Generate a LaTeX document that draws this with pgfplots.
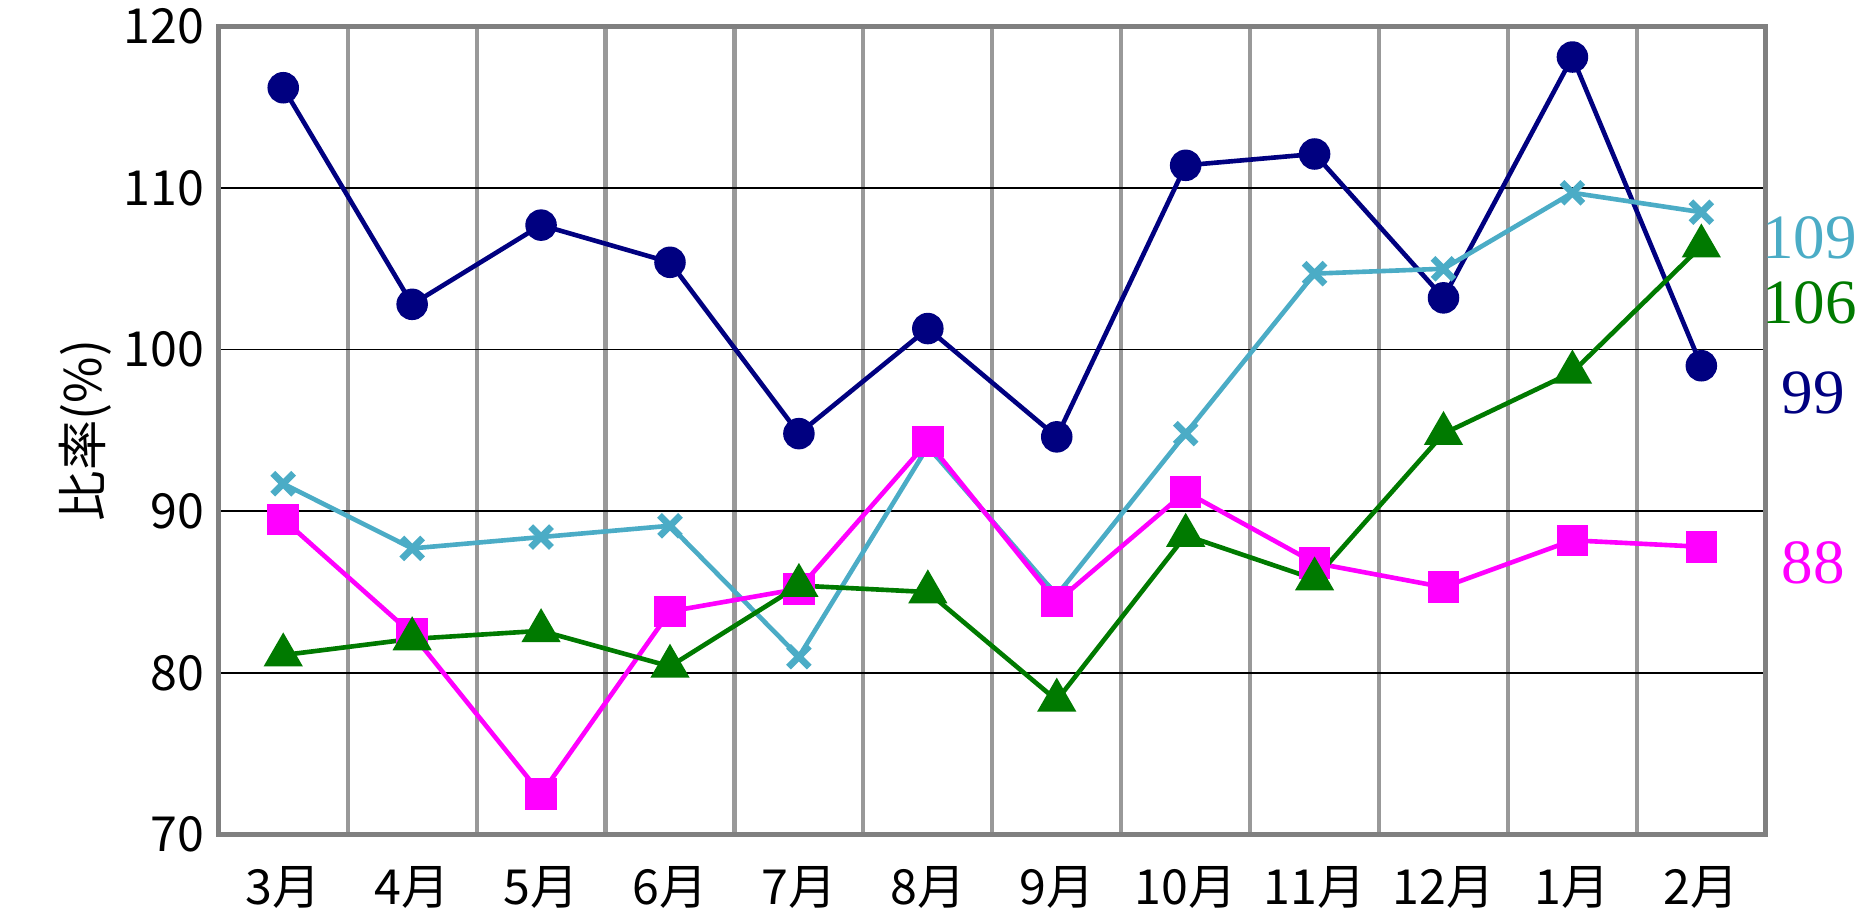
\documentclass[border=0pt]{standalone}
\usepackage{pgfplots}
\pgfplotsset{compat=1.18}
\usepackage{fontspec}
\setmainfont{Liberation Serif}
\newfontfamily\cjk{Noto Sans CJK JP}
\definecolor{navy}{RGB}{0,0,128}
\definecolor{cy}{RGB}{75,172,198}
\definecolor{mg}{RGB}{255,0,255}
\definecolor{gr}{RGB}{0,122,0}
\begin{document}
\begin{tikzpicture}[x=1cm,y=1cm]
\begin{axis}[at={(1.83cm,0.72cm)},anchor=south west,scale only axis,
 width=12.94cm,height=6.76cm,xmin=0.5,xmax=12.5,ymin=70,ymax=120,
 xtick={1,...,12},xticklabels={3月,4月,5月,6月,7月,8月,9月,10月,11月,12月,1月,2月},
 minor xtick={1.5,2.5,...,11.5},xminorgrids,
 minor x grid style={gray!80,line width=1pt},
 ytick={70,80,...,120},ymajorgrids,y grid style={black,line width=0.4pt},
 axis line style={gray,line width=1.2pt},
 tick style={draw=none},
 ticklabel style={font=\cjk\fontsize{11.5}{13}\selectfont},
 xticklabel style={yshift=-4pt},
 /pgf/number format/assume math mode=true,
 ylabel={\cjk 比率(\%)},ylabel style={font=\cjk\fontsize{12}{14}\selectfont,yshift=-4pt},
 clip=false,
 every axis plot/.append style={line width=1.1pt}]
\addplot[navy,mark=*,mark size=3.2pt] coordinates {(1,116.2)(2,102.8)(3,107.7)(4,105.4)(5,94.8)(6,101.3)(7,94.6)(8,111.4)(9,112.1)(10,103.2)(11,118.1)(12,99.0)};
\addplot[cy,mark=x,mark size=3.5pt,mark options={line width=1.6pt}] coordinates {(1,91.7)(2,87.7)(3,88.4)(4,89.1)(5,81.0)(6,94.0)(7,84.8)(8,94.8)(9,104.7)(10,105.0)(11,109.7)(12,108.5)};
\addplot[mg,mark=square*,mark size=3.2pt] coordinates {(1,89.5)(2,82.4)(3,72.5)(4,83.8)(5,85.2)(6,94.3)(7,84.4)(8,91.2)(9,86.8)(10,85.3)(11,88.2)(12,87.8)};
\addplot[gr,mark=triangle*,mark size=4.3pt] coordinates {(1,81.1)(2,82.1)(3,82.6)(4,80.4)(5,85.4)(6,85.0)(7,78.3)(8,88.5)(9,85.8)(10,94.8)(11,98.6)(12,106.4)};
\node[cy,anchor=west,font=\fontsize{15}{17}\selectfont,inner sep=0.5pt] at (axis cs:12.45,106.9) {109};
\node[gr,anchor=west,font=\fontsize{15}{17}\selectfont,inner sep=0.5pt] at (axis cs:12.45,102.9) {106};
\node[navy,anchor=west,font=\fontsize{15}{17}\selectfont,inner sep=0.5pt] at (axis cs:12.6,97.3) {99};
\node[mg,anchor=west,font=\fontsize{15}{17}\selectfont,inner sep=0.5pt] at (axis cs:12.6,86.8) {88};
\end{axis}
\pgfresetboundingbox
\path[use as bounding box] (0,0) rectangle (15.6,7.7);
\end{tikzpicture}
\end{document}
